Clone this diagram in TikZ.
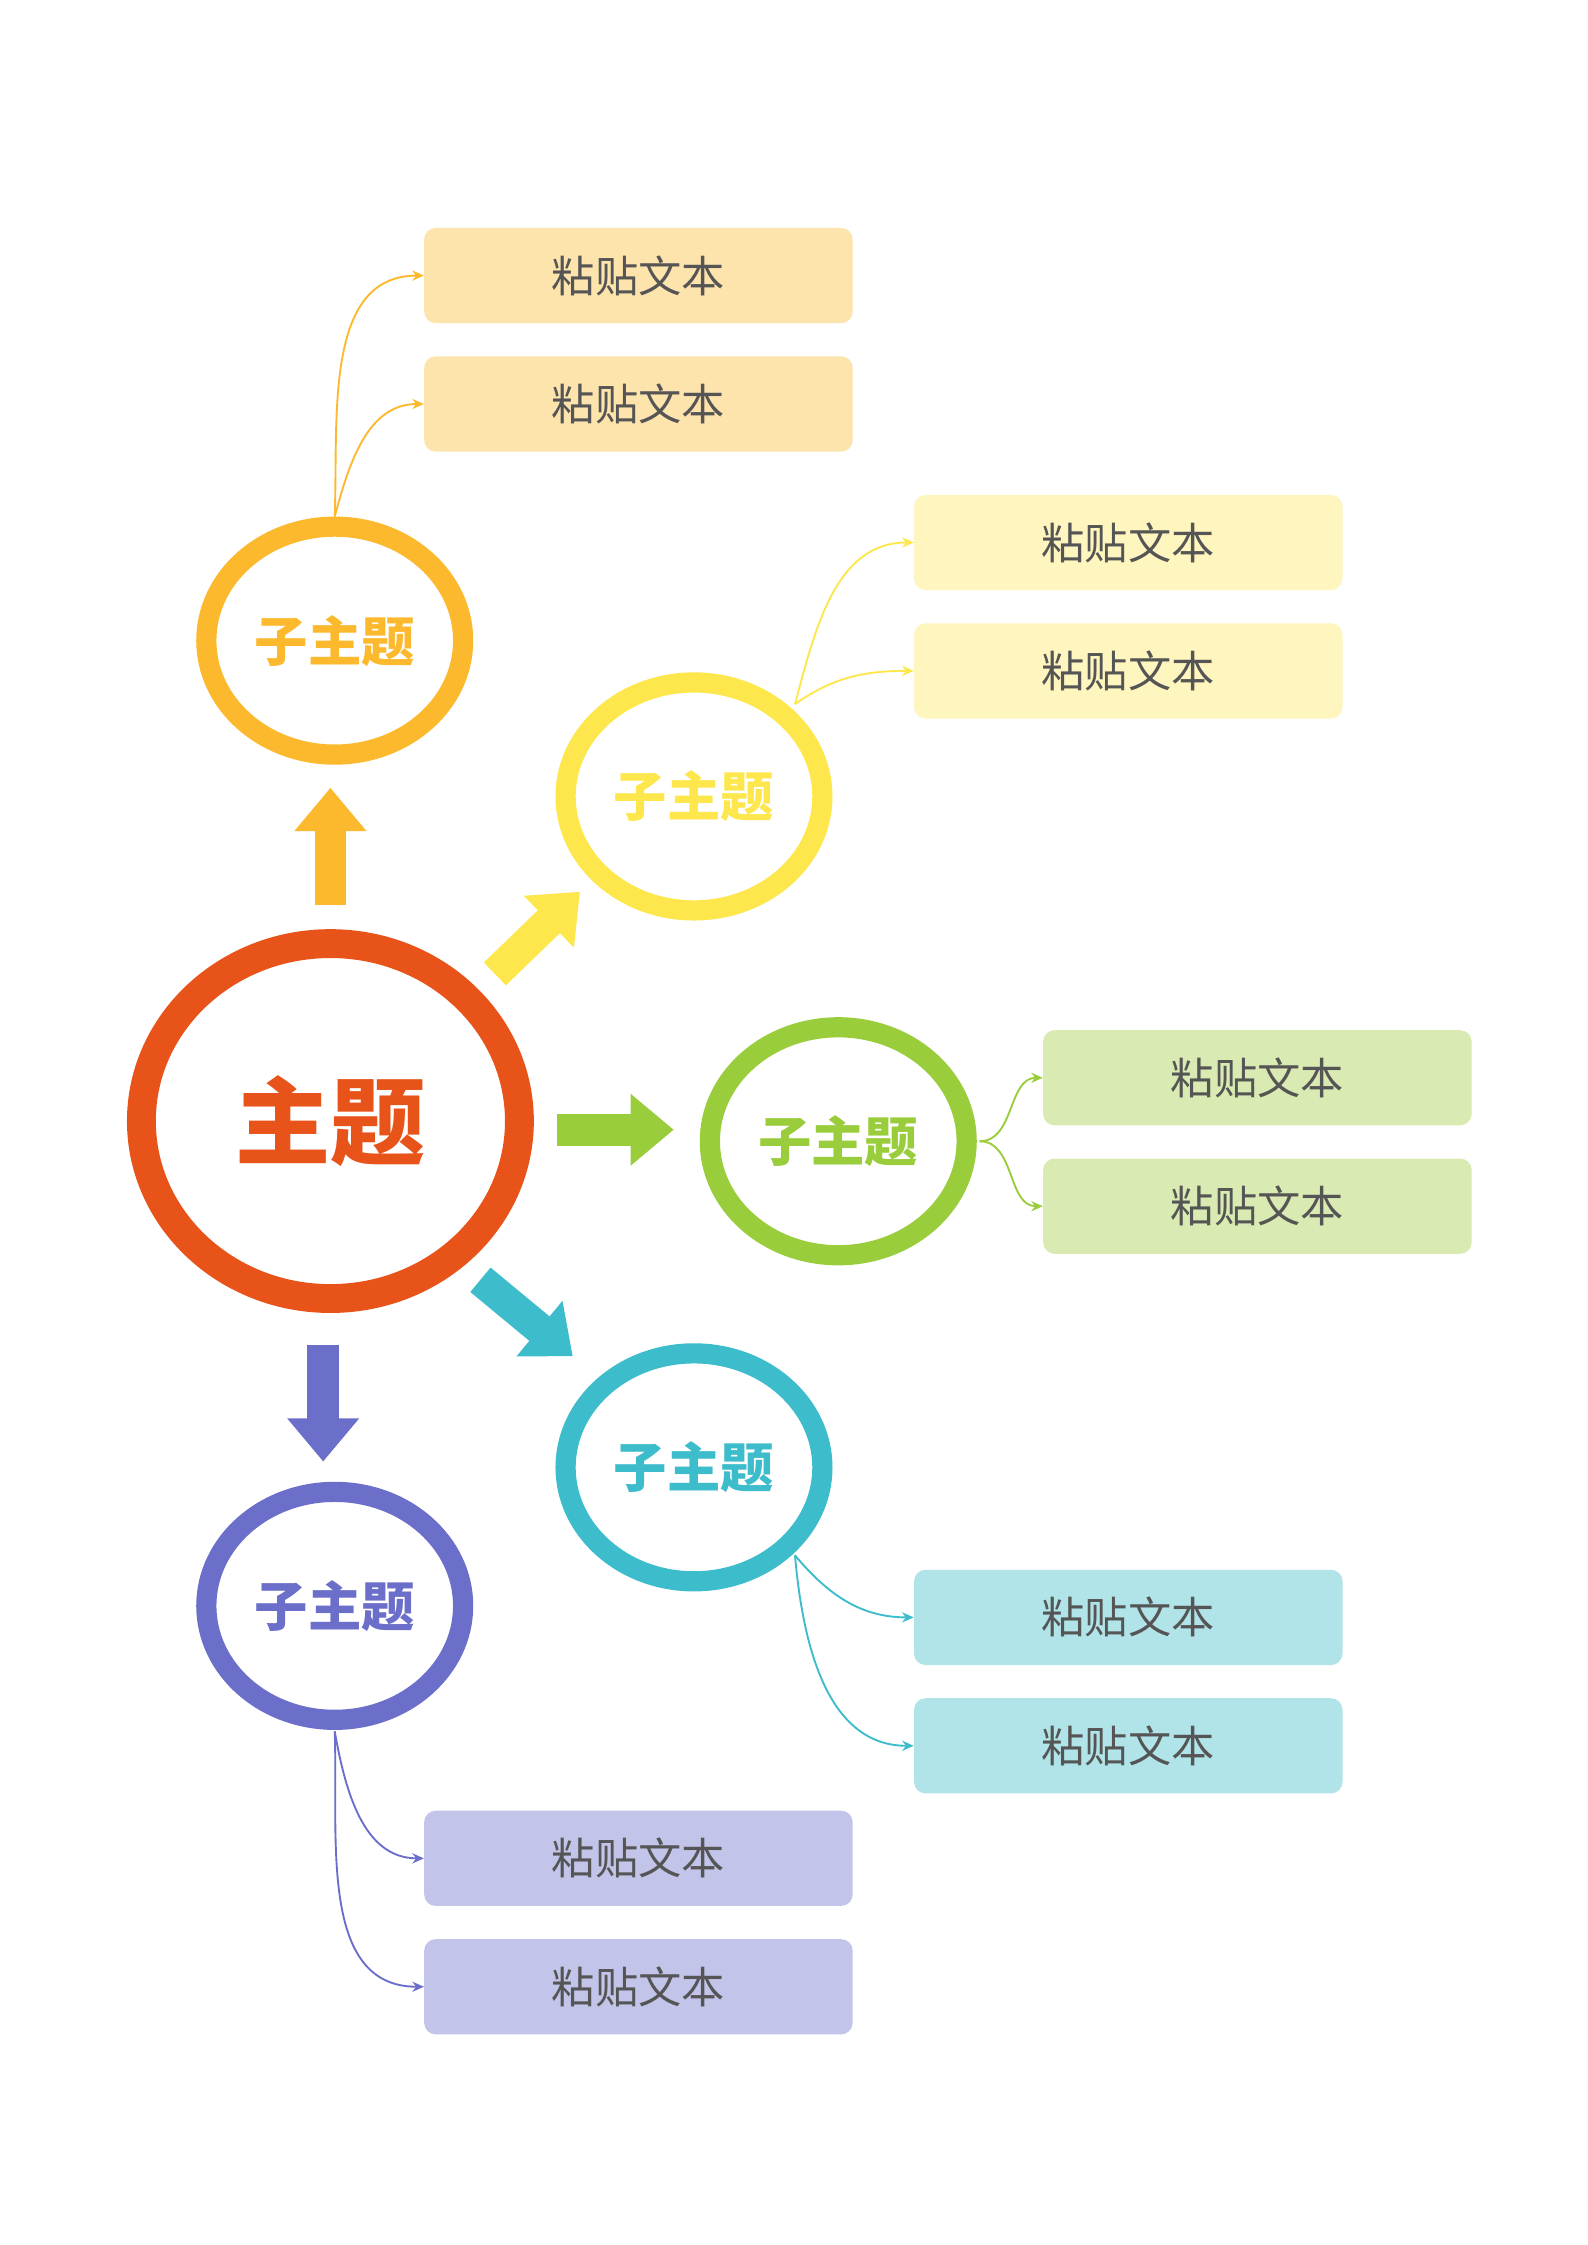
\documentclass[tikz,border=0pt]{standalone}
\usepackage{fontspec}
\setmainfont{Noto Sans CJK SC}
\usetikzlibrary{shapes.geometric,arrows.meta}
\definecolor{cMain}{HTML}{E8531A}
\definecolor{cO}{HTML}{FDB92E}
\definecolor{cY}{HTML}{FDE74C}
\definecolor{cG}{HTML}{9ACD3C}
\definecolor{cT}{HTML}{3DBCCB}
\definecolor{cP}{HTML}{6B6FC9}
\definecolor{fO}{HTML}{FDE3AC}
\definecolor{fY}{HTML}{FEF6BE}
\definecolor{fG}{HTML}{D9EAB2}
\definecolor{fT}{HTML}{B0E4E8}
\definecolor{fP}{HTML}{C2C4E9}
\definecolor{txt}{HTML}{555555}
\begin{document}
\begin{tikzpicture}[x=1pt,y=-1pt,
  sub/.style={ellipse,draw=#1,line width=14pt,minimum width=178pt,minimum height=158pt,inner sep=0,text=#1,font=\fontsize{37}{40}\selectfont\bfseries},
  box/.style={rectangle,rounded corners=8pt,fill=#1,minimum width=297pt,minimum height=66pt,inner sep=0,text=txt,font=\fontsize{30}{34}\selectfont},
  con/.style={draw=#1,line width=1.3pt,-{Stealth[length=8pt,width=7pt]}},
  big/.style={draw=#1,line width=22pt,-{Triangle[length=30pt,width=48pt]}}]
\useasboundingbox (0,0) rectangle (1100,1556);
\fill[white] (0,0) rectangle (1100,1556);
\node[ellipse,draw=cMain,line width=20pt,minimum width=262pt,minimum height=246pt,text=cMain,font=\fontsize{66}{70}\selectfont\bfseries] (m) at (229,777) {主题};
\node[sub=cO] (o) at (232,444) {子主题};
\node[sub=cY] (y) at (481,552) {子主题};
\node[sub=cG] (g) at (581,791) {子主题};
\node[sub=cT] (t) at (481,1017) {子主题};
\node[sub=cP] (p) at (232,1113) {子主题};
\node[box=fO] (o1) at (442.5,191) {粘贴文本};
\node[box=fO] (o2) at (442.5,280) {粘贴文本};
\node[box=fY] (y1) at (782,376) {粘贴文本};
\node[box=fY] (y2) at (782,465) {粘贴文本};
\node[box=fG] (g1) at (871.5,747) {粘贴文本};
\node[box=fG] (g2) at (871.5,836) {粘贴文本};
\node[box=fT] (t1) at (782,1121) {粘贴文本};
\node[box=fT] (t2) at (782,1210) {粘贴文本};
\node[box=fP] (p1) at (442.5,1288) {粘贴文本};
\node[box=fP] (p2) at (442.5,1377) {粘贴文本};
\coordinate (os) at (232,358);
\coordinate (ys) at (551,488);
\coordinate (gs) at (679,791);
\coordinate (ts) at (551,1078);
\coordinate (ps) at (232,1200);
\draw[con=cO] (os) to[out=88,in=180] (o1.west);
\draw[con=cO] (os) to[out=75,in=180] (o2.west);
\draw[con=cY] (ys) to[out=75,in=180] (y1.west);
\draw[con=cY] (ys) to[out=35,in=180] (y2.west);
\draw[con=cG] (gs) to[out=0,in=180] (g1.west);
\draw[con=cG] (gs) to[out=0,in=180] (g2.west);
\draw[con=cT] (ts) to[out=-50,in=180] (t1.west);
\draw[con=cT] (ts) to[out=-85,in=180] (t2.west);
\draw[con=cP] (ps) to[out=-80,in=180] (p1.west);
\draw[con=cP] (ps) to[out=-88,in=180] (p2.west);
\draw[big=cO] (229,627) -- (229,546);
\draw[big=cY] (343,675) -- (402,618);
\draw[big=cG] (386,783) -- (467,783);
\draw[big=cT] (333,887) -- (397,940);
\draw[big=cP] (224,932) -- (224,1013);
\end{tikzpicture}
\end{document}
